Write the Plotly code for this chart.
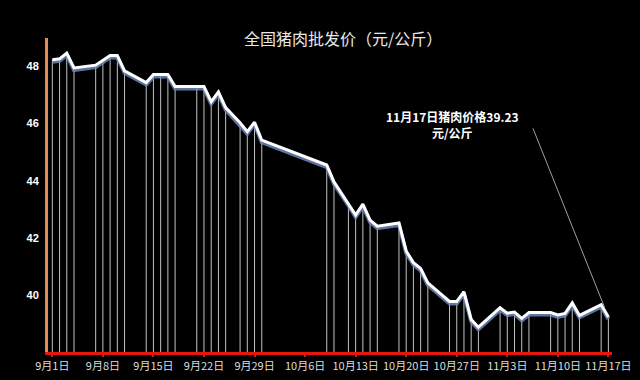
import plotly.graph_objects as go

# ---- data ----
dates = ['2020-09-01','2020-09-02','2020-09-03','2020-09-04','2020-09-07','2020-09-08',
         '2020-09-09','2020-09-10','2020-09-11','2020-09-14','2020-09-15','2020-09-16',
         '2020-09-17','2020-09-18','2020-09-21','2020-09-22','2020-09-23','2020-09-24',
         '2020-09-25','2020-09-27','2020-09-28','2020-09-29','2020-09-30','2020-10-09',
         '2020-10-10','2020-10-12','2020-10-13','2020-10-14','2020-10-15','2020-10-16',
         '2020-10-19','2020-10-20','2020-10-21','2020-10-22','2020-10-23','2020-10-26',
         '2020-10-27','2020-10-28','2020-10-29','2020-10-30','2020-11-02','2020-11-03',
         '2020-11-04','2020-11-05','2020-11-06','2020-11-09','2020-11-10','2020-11-11',
         '2020-11-12','2020-11-13','2020-11-16','2020-11-17']
prices = [48.24, 48.27, 48.47, 47.95, 48.05, 48.21,
          48.39, 48.39, 47.85, 47.44, 47.72, 47.72,
          47.72, 47.30, 47.30, 47.30, 46.77, 47.11,
          46.56, 46.03, 45.72, 46.05, 45.42, 44.55,
          43.96, 43.21, 42.80, 43.18, 42.62, 42.41,
          42.52, 41.54, 41.13, 40.93, 40.42, 39.77,
          39.77, 40.11, 39.14, 38.87, 39.55, 39.36,
          39.40, 39.18, 39.38, 39.38, 39.30, 39.35,
          39.72, 39.28, 39.66, 39.23]
tick_dates = ['2020-09-01','2020-09-08','2020-09-15','2020-09-22','2020-09-29','2020-10-06',
              '2020-10-13','2020-10-20','2020-10-27','2020-11-03','2020-11-10','2020-11-17']
tick_labels = ['9月1日','9月8日','9月15日','9月22日','9月29日','10月6日',
               '10月13日','10月20日','10月27日','11月3日','11月10日','11月17日']
y_ticks = [40, 42, 44, 46, 48]
title_text = '全国猪肉批发价（元/公斤）'
note_text = '11月17日猪肉价格39.23<br>元/公斤'

Y_MIN, Y_MAX = 38, 49
CJK = 'Noto Sans CJK SC'

# drop lines from each point to the baseline
seg_x, seg_y = [], []
for d, p in zip(dates, prices):
    seg_x += [d, d, None]
    seg_y += [Y_MIN, p, None]

fig = go.Figure()
fig.add_trace(go.Scatter(x=seg_x, y=seg_y, mode='lines',
                         line=dict(color='rgba(215,215,215,0.9)', width=1),
                         hoverinfo='skip', showlegend=False))
# soft shadow under the main line
fig.add_trace(go.Scatter(x=dates, y=[p - 0.07 for p in prices], mode='lines',
                         line=dict(color='rgba(110,135,185,0.85)', width=4),
                         hoverinfo='skip', showlegend=False))
fig.add_trace(go.Scatter(x=dates, y=prices, mode='lines',
                         line=dict(color='#ffffff', width=3),
                         showlegend=False))

fig.update_layout(
    width=640, height=380,
    paper_bgcolor='#000000', plot_bgcolor='#000000',
    margin=dict(l=48, r=28, t=38, b=28),
    title=dict(text=title_text, x=0.536, xanchor='center', y=1 - 39/380, yanchor='middle',
               yref='container',
               font=dict(family=CJK, size=16, color='#e8e8e8')),
    xaxis=dict(range=['2020-08-31 09:36', '2020-11-17 12:00'],
               tickvals=tick_dates, ticktext=tick_labels,
               tickfont=dict(family=CJK, size=11, color='#dddddd'),
               showgrid=False, zeroline=False, automargin=False,
               showline=True, linecolor='#e5170c', linewidth=3,
               ticks='outside', ticklen=2, tickcolor='#e5170c', tickwidth=2),
    yaxis=dict(range=[Y_MIN, Y_MAX], tickvals=y_ticks, automargin=False,
               tickfont=dict(family='Liberation Sans', size=11, color='#ffffff', weight='bold'),
               showgrid=False, zeroline=False,
               showline=True, linecolor='#e38a55', linewidth=3,
               ticks='outside', ticklen=4, tickcolor='rgba(0,0,0,0)'),
    annotations=[
        dict(text=note_text, xref='paper', yref='paper', x=0.718, y=0.726,
             xanchor='center', yanchor='middle', showarrow=False, align='center',
             font=dict(family=CJK, size=12, color='#ffffff', weight='bold')),
        dict(text='', x=dates[-1], y=prices[-1], xref='x', yref='y',
             showarrow=True, arrowhead=0, arrowwidth=1, arrowcolor='#9aa0a8',
             ax=-76, ay=-190, standoff=10),
    ],
)

fig.write_html('out.html')
